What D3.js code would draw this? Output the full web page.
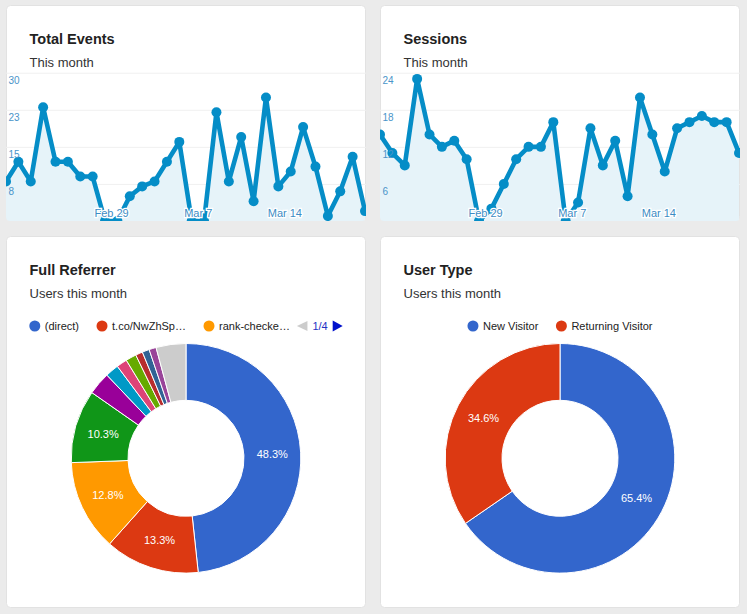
<!DOCTYPE html>
<html>
<head>
<meta charset="utf-8">
<script src="https://cdn.jsdelivr.net/npm/d3@7"></script>
<style>
body { margin: 0; background: #ebebeb; font-family: "Liberation Sans", Arial, Helvetica, sans-serif; }
svg { display: block; }
</style>
</head>
<body>
<div id="dash"></div>
<script>

// Data
const days = [
    "2016-02-21", "2016-02-22", "2016-02-23", "2016-02-24", "2016-02-25", "2016-02-26",
    "2016-02-27", "2016-02-28", "2016-02-29", "2016-03-01", "2016-03-02", "2016-03-03",
    "2016-03-04", "2016-03-05", "2016-03-06", "2016-03-07", "2016-03-08", "2016-03-09",
    "2016-03-10", "2016-03-11", "2016-03-12", "2016-03-13", "2016-03-14", "2016-03-15",
    "2016-03-16", "2016-03-17", "2016-03-18", "2016-03-19", "2016-03-20", "2016-03-21"
];
const eventsValues = [8, 12, 8, 23, 12, 12, 9, 9, 0, 0, 5, 7, 8, 12, 16, 0, 0, 22, 8, 17, 4, 25, 7, 10, 19, 11, 1, 6, 13, 2];
const sessionsValues = [14, 11, 9, 23, 14, 12, 13, 10, 0, 2, 6, 10, 12, 12, 16, 0, 3, 15, 9, 13, 4, 20, 14, 8, 15, 16, 17, 16, 16, 11];
const eventsTicks = [7.5, 15, 22.5, 30];
const sessionsTicks = [6, 12, 18, 24];
const dateTicks = ["2016-02-29", "2016-03-07", "2016-03-14"];

const referrerNames = ["(direct)", "t.co/NwZhSp…", "rank-checke…", "referrer 4", "referrer 5", "referrer 6",
    "referrer 7", "referrer 8", "referrer 9", "referrer 10", "referrer 11", "Other"];
const referrerValues = [48.3, 13.3, 12.8, 10.3, 3.2, 1.9, 1.5, 1.5, 1.0, 1.0, 1.0, 4.2];
const referrerPage = "1/4";

const userTypes = ["New Visitor", "Returning Visitor"];
const userValues = [65.4, 34.6];

const palette = ["#3366cc", "#dc3912", "#ff9900", "#109618", "#990099", "#0099c6",
    "#dd4477", "#66aa00", "#b82e2e", "#316395", "#994499", "#cccccc"];

const parseDay = d3.timeParse("%Y-%m-%d");
const svg = d3.select('#dash').append('svg')
    .attr('width', 747)
    .attr('height', 614);

// White card with title + subtitle
function card(x, y, w, h, title, sub, id) {
    let g = svg.append('g').attr('transform', `translate(${x},${y})`);
    g.append('rect')
        .attr('x', 0.5).attr('y', 0.5)
        .attr('width', w - 1).attr('height', h - 1)
        .attr('rx', 4)
        .attr('fill', '#fff')
        .attr('stroke', '#e2e2e2');
    g.append('clipPath').attr('id', id)
        .append('rect').attr('width', w).attr('height', h).attr('rx', 4);
    g.append('text')
        .attr('x', 23.5).attr('y', 39)
        .attr('font-size', '14.5px').attr('font-weight', 'bold')
        .attr('fill', '#222')
        .text(title);
    g.append('text')
        .attr('x', 23.5).attr('y', 61.5)
        .attr('font-size', '13px')
        .attr('fill', '#333')
        .text(sub);
    return g;
}

function lineChart(g, w, h, values, ticks, clipId) {
    let data = days.map((d, i) => ({date: parseDay(d), v: values[i]}));
    let top = 67.7;

    let xScale = d3.scaleTime()
        .domain(d3.extent(data, d => d.date))
        .range([0, w - 1]);
    let yScale = d3.scaleLinear()
        .domain([0, d3.max(ticks)])
        .range([h, top]);

    let plot = g.append('g').attr('clip-path', `url(#${clipId})`);

    // gridlines
    plot.append('g')
        .call(d3.axisRight(yScale).tickValues(ticks).tickSize(w).tickFormat(''))
        .call(a => a.select('.domain').remove())
        .call(a => a.selectAll('line').attr('stroke', '#f0f0f0'));

    let area = d3.area()
        .x(d => xScale(d.date))
        .y0(h)
        .y1(d => yScale(d.v));
    let line = d3.line()
        .x(d => xScale(d.date))
        .y(d => yScale(d.v));

    plot.append('path')
        .datum(data)
        .attr('d', area)
        .attr('fill', '#e6f3f9');
    plot.append('path')
        .datum(data)
        .attr('d', line)
        .attr('fill', 'none')
        .attr('stroke', '#058dc7')
        .attr('stroke-width', 4.6)
        .attr('stroke-linejoin', 'round');
    plot.selectAll('circle')
        .data(data).enter()
        .append('circle')
        .attr('cx', d => xScale(d.date))
        .attr('cy', d => yScale(d.v))
        .attr('r', 5)
        .attr('fill', '#058dc7');

    // y labels sit inside, just under their gridline
    let yAxis = plot.append('g')
        .call(d3.axisRight(yScale).tickValues(ticks).tickSize(0).tickFormat(d3.format('.0f')));
    yAxis.select('.domain').remove();
    yAxis.selectAll('text')
        .attr('x', 2.5).attr('dy', 0).attr('y', 11)
        .attr('font-size', '10px')
        .attr('font-family', '"Liberation Sans", Arial, sans-serif')
        .attr('fill', '#4a94c9')
        .attr('text-anchor', 'start');

    let xAxis = plot.append('g')
        .attr('transform', `translate(0,${h})`)
        .call(d3.axisBottom(xScale)
            .tickValues(dateTicks.map(parseDay))
            .tickSize(0)
            .tickFormat(d3.timeFormat('%b %-d')));
    xAxis.select('.domain').remove();
    xAxis.selectAll('text')
        .attr('y', -4).attr('dy', 0).attr('dx', 6)
        .attr('font-size', '11px')
        .attr('font-family', '"Liberation Sans", Arial, sans-serif')
        .attr('fill', '#3d8cc4')
        .attr('stroke', '#fff')
        .attr('stroke-width', 2.5)
        .attr('paint-order', 'stroke');
}

function legend(g, w, names, colors, page) {
    let lg = g.append('g').attr('transform', 'translate(0,90)');
    let cx = 0;
    names.forEach((n, i) => {
        lg.append('circle')
            .attr('cx', cx + 5.5).attr('cy', 0).attr('r', 5.5)
            .attr('fill', colors[i]);
        let t = lg.append('text')
            .attr('x', cx + 15.5).attr('y', 0).attr('dy', '0.35em')
            .attr('font-size', '11px').attr('fill', '#222')
            .text(n);
        cx += 15.5 + t.node().getComputedTextLength() + (i < names.length - 1 ? 17.5 : 0);
    });
    if (page) {
        cx += 7;
        lg.append('path')
            .attr('d', `M${cx + 10.5},-5L${cx},0L${cx + 10.5},5Z`)
            .attr('fill', '#cccccc');
        cx += 15.5;
        let t = lg.append('text')
            .attr('x', cx).attr('y', 0).attr('dy', '0.35em')
            .attr('font-size', '11px').attr('fill', '#1f33c4')
            .text(page);
        cx += t.node().getComputedTextLength() + 5;
        lg.append('path')
            .attr('d', `M${cx},-5.5L${cx + 10},0L${cx},5.5Z`)
            .attr('fill', '#0011cc');
        cx += 10;
    }
    lg.attr('transform', `translate(${(w - cx) / 2},90)`);
}

function donut(g, w, names, values, colors) {
    let cy = 222.3;
    let outer = 114.8;
    let inner = 58;
    let pie = d3.pie().sort(null).value(d => d.v);
    let arc = d3.arc().innerRadius(inner).outerRadius(outer);
    let data = names.map((n, i) => ({name: n, v: values[i], color: colors[i]}));
    let total = d3.sum(values);

    let pg = g.append('g').attr('transform', `translate(${w / 2},${cy})`);
    let arcs = pg.selectAll('.slice')
        .data(pie(data)).enter()
        .append('g')
        .attr('class', 'slice');
    arcs.append('path')
        .attr('d', arc)
        .attr('fill', d => d.data.color)
        .attr('stroke', '#fff')
        .attr('stroke-width', 1);
    arcs.filter(d => d.data.v / total >= 0.05)
        .append('text')
        .attr('transform', d => `translate(${arc.centroid(d)})`)
        .attr('dy', '0.35em')
        .attr('text-anchor', 'middle')
        .attr('font-size', '11px')
        .attr('fill', '#fff')
        .text(d => (d.data.v / total * 100).toFixed(1) + '%');
}

let c1 = card(6, 5, 360, 216, 'Total Events', 'This month', 'clip1');
lineChart(c1, 360, 216, eventsValues, eventsTicks, 'clip1');

let c2 = card(380, 5, 360, 216, 'Sessions', 'This month', 'clip2');
lineChart(c2, 360, 216, sessionsValues, sessionsTicks, 'clip2');

let c3 = card(6, 236, 360, 372, 'Full Referrer', 'Users this month', 'clip3');
legend(c3, 360, referrerNames.slice(0, 3), palette, referrerPage);
donut(c3, 360, referrerNames, referrerValues, palette);

let c4 = card(380, 236, 360, 372, 'User Type', 'Users this month', 'clip4');
legend(c4, 360, userTypes, palette, null);
donut(c4, 360, userTypes, userValues, palette);

</script>
</body>
</html>
